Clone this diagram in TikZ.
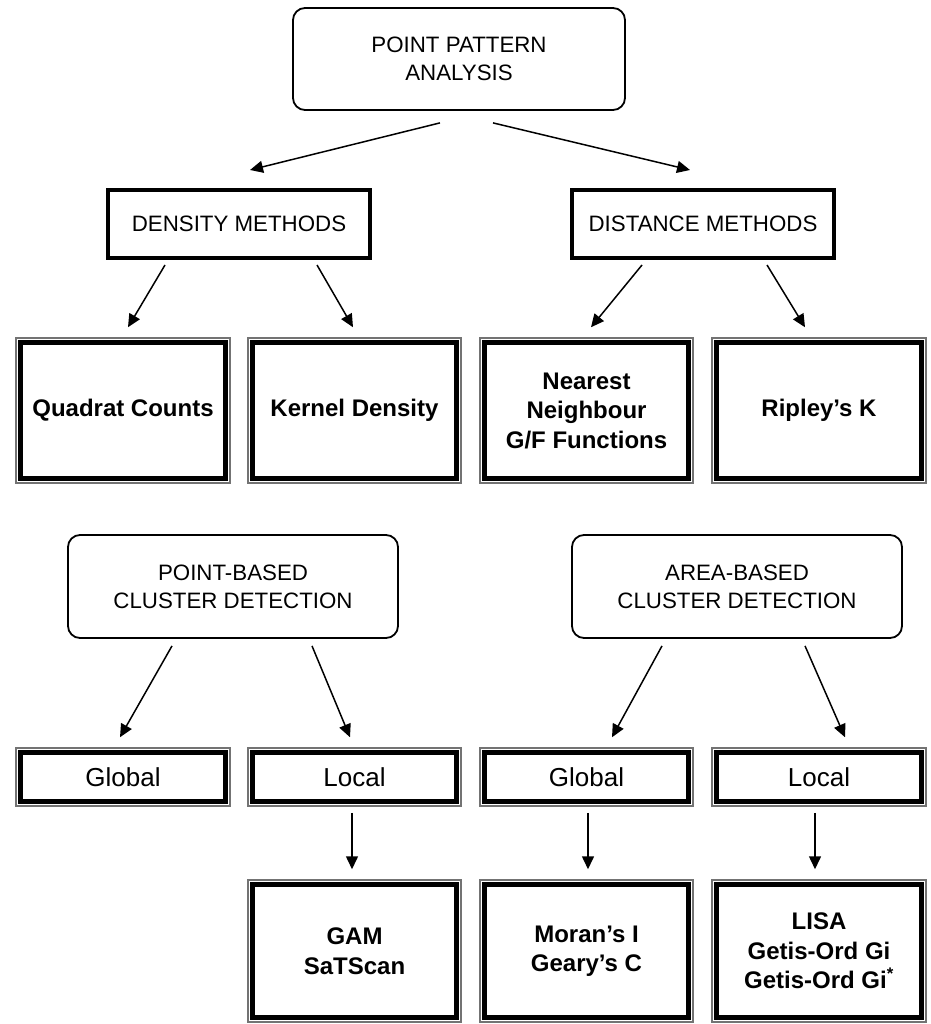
\documentclass[tikz,border=0pt]{standalone}
\usepackage{fontspec}
\setmainfont{Liberation Sans}
\usetikzlibrary{arrows.meta}
\begin{document}
\begin{tikzpicture}[x=1pt,y=-1pt,
  rbox/.style={draw, line width=1.8pt, rounded corners=12pt, align=center, inner sep=0pt,
    font=\fontsize{22.3}{28}\selectfont},
  tbox/.style={draw, line width=4pt, align=center, inner sep=0pt,
    font=\fontsize{22.3}{28}\selectfont},
  dbox/.style={draw=black!55, line width=1.5pt, align=center, inner sep=0pt,
    path picture={\draw[draw=black, line width=5pt]
      ([shift={(4.5pt,-4.5pt)}]path picture bounding box.north west) rectangle
      ([shift={(-4.5pt,4.5pt)}]path picture bounding box.south east);}},
  bold/.style={font=\bfseries\fontsize{24}{29.5}\selectfont},
  reg/.style={font=\fontsize{26}{30}\selectfont},
  arr/.style={line width=1.5pt, -{Triangle[length=13pt,width=12pt]}}
]
\useasboundingbox (0,0) rectangle (930,1024);
% top
\node[rbox, minimum width=332, minimum height=102] (ppa) at (459,59) {POINT PATTERN\\ANALYSIS};
\node[tbox, minimum width=262, minimum height=68] (dens) at (239,224) {DENSITY METHODS};
\node[tbox, minimum width=262, minimum height=68] (dist) at (703,224) {DISTANCE METHODS};
% row 3
\node[dbox, bold, minimum width=214, minimum height=145] (quad) at (123,410.5) {Quadrat Counts};
\node[dbox, bold, minimum width=213, minimum height=145] (kern) at (354.5,410.5) {Kernel Density};
\node[dbox, bold, minimum width=213, minimum height=145] (near) at (586.5,410.5) {Nearest\\Neighbour\\G/F Functions};
\node[dbox, bold, minimum width=214, minimum height=145] (rip) at (819,410.5) {Ripley’s K};
% cluster
\node[rbox, minimum width=330, minimum height=103] (pbc) at (233,586.5) {POINT-BASED\\CLUSTER DETECTION};
\node[rbox, minimum width=330, minimum height=103] (abc) at (737,586.5) {AREA-BASED\\CLUSTER DETECTION};
% row 5
\node[dbox, reg, minimum width=214, minimum height=58] (glob1) at (123,777) {Global};
\node[dbox, reg, minimum width=213, minimum height=58] (loc1) at (354.5,777) {Local};
\node[dbox, reg, minimum width=213, minimum height=58] (glob2) at (586.5,777) {Global};
\node[dbox, reg, minimum width=214, minimum height=58] (loc2) at (819,777) {Local};
% row 6
\node[dbox, bold, minimum width=213, minimum height=142] (gam) at (354.5,951) {GAM\\SaTScan};
\node[dbox, bold, minimum width=213, minimum height=142] (mor) at (586.5,951) {Moran’s I\\Geary’s C};
\node[dbox, bold, minimum width=214, minimum height=142] (lisa) at (819,951) {LISA\\Getis-Ord Gi\\Getis-Ord Gi\textsuperscript{*}};
% arrows
\draw[arr] ([xshift=-19pt,yshift=-12pt]ppa.south) -- ([xshift=11pt,yshift=18pt]dens.north);
\draw[arr] ([xshift=34pt,yshift=-12pt]ppa.south) -- ([xshift=-13pt,yshift=18pt]dist.north);
\draw[arr] ([xshift=-74pt,yshift=-5pt]dens.south) -- ([xshift=5pt,yshift=10pt]quad.north);
\draw[arr] ([xshift=78pt,yshift=-5pt]dens.south) -- ([xshift=-1.5pt,yshift=10pt]kern.north);
\draw[arr] ([xshift=-61pt,yshift=-5pt]dist.south) -- ([xshift=4.5pt,yshift=10pt]near.north);
\draw[arr] ([xshift=64pt,yshift=-5pt]dist.south) -- ([xshift=-14pt,yshift=10pt]rip.north);
\draw[arr] ([xshift=-61pt,yshift=-7pt]pbc.south) -- ([xshift=-3pt,yshift=10pt]glob1.north);
\draw[arr] ([xshift=79pt,yshift=-7pt]pbc.south) -- ([xshift=-4.5pt,yshift=10pt]loc1.north);
\draw[arr] ([xshift=-75pt,yshift=-7pt]abc.south) -- ([xshift=25.5pt,yshift=10pt]glob2.north);
\draw[arr] ([xshift=68pt,yshift=-7pt]abc.south) -- ([xshift=26pt,yshift=10pt]loc2.north);
\draw[arr] ([xshift=-2.5pt,yshift=-6pt]loc1.south) -- ([xshift=-2.5pt,yshift=10pt]gam.north);
\draw[arr] ([xshift=1.5pt,yshift=-6pt]glob2.south) -- ([xshift=1.5pt,yshift=10pt]mor.north);
\draw[arr] ([xshift=-4pt,yshift=-6pt]loc2.south) -- ([xshift=-4pt,yshift=10pt]lisa.north);
\end{tikzpicture}
\end{document}
